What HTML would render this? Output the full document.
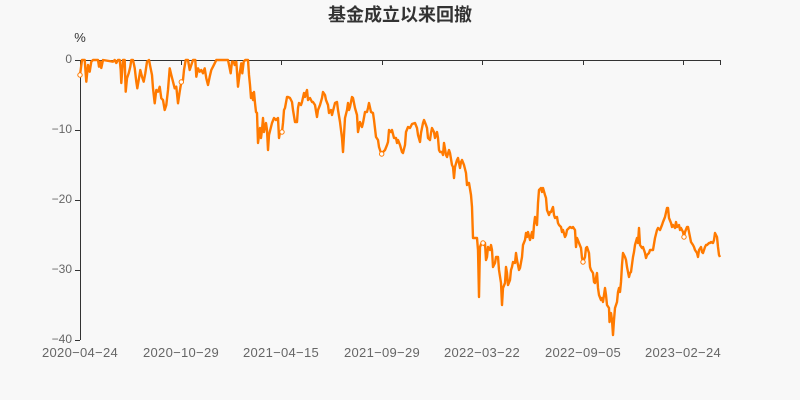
<!DOCTYPE html>
<html>
<head>
<meta charset="utf-8">
<style>
html,body{margin:0;padding:0;background:#f8f8f8;}
svg{display:block;}
</style>
</head>
<body>
<svg width="800" height="400" viewBox="0 0 800 400" xmlns="http://www.w3.org/2000/svg">
<rect x="0" y="0" width="800" height="400" fill="#f8f8f8"/>
<text x="400" y="21" text-anchor="middle" font-family="'Liberation Sans','Noto Sans CJK SC',sans-serif" font-size="18" font-weight="bold" fill="#333">基金成立以来回撤</text>
<text x="80" y="42" text-anchor="middle" font-family="'Liberation Sans',sans-serif" font-size="13" fill="#333">%</text>

<!-- axes -->
<g stroke="#333" stroke-width="1" fill="none" shape-rendering="crispEdges">
<line x1="80" y1="60.5" x2="720" y2="60.5"/>
<line x1="80.5" y1="60" x2="80.5" y2="340"/>
<line x1="181.5" y1="60" x2="181.5" y2="65"/>
<line x1="281.5" y1="60" x2="281.5" y2="65"/>
<line x1="382.5" y1="60" x2="382.5" y2="65"/>
<line x1="482.5" y1="60" x2="482.5" y2="65"/>
<line x1="583.5" y1="60" x2="583.5" y2="65"/>
<line x1="683.5" y1="60" x2="683.5" y2="65"/>
<line x1="720.5" y1="60" x2="720.5" y2="65"/>
<line x1="75" y1="60.5" x2="80" y2="60.5"/>
<line x1="75" y1="130.5" x2="80" y2="130.5"/>
<line x1="75" y1="200.5" x2="80" y2="200.5"/>
<line x1="75" y1="270.5" x2="80" y2="270.5"/>
<line x1="75" y1="340.5" x2="80" y2="340.5"/>
</g>

<g font-family="'Liberation Sans',sans-serif" font-size="12" fill="#666" text-anchor="end">
<text x="72" y="63">0</text>
<text x="72" y="133">−10</text>
<text x="72" y="203">−20</text>
<text x="72" y="273">−30</text>
<text x="72" y="343">−40</text>
</g>
<g font-family="'Liberation Sans',sans-serif" font-size="13" fill="#666" text-anchor="middle" letter-spacing="0.3">
<text x="80" y="357">2020−04−24</text>
<text x="181" y="357">2020−10−29</text>
<text x="281" y="357">2021−04−15</text>
<text x="382" y="357">2021−09−29</text>
<text x="482" y="357">2022−03−22</text>
<text x="583" y="357">2022−09−05</text>
<text x="683" y="357">2023−02−24</text>
</g>

<polyline fill="none" stroke="#ff7a00" stroke-width="2.4" stroke-linejoin="round" points="
80,75 82,60 84.7,60 86.3,81.7 88,65 89.7,71.7 91.3,61.7 93,60 98,60 99,66.7 100.3,61.7 101.3,68 103,60 113,61.7 114.7,60 116.3,63 118,60 119.7,60 120.7,70 121.3,83 123,60 124.7,60 125.7,91.7 127,78.3 128.7,73.3 130.3,66.7 131.3,60 133,60 134.7,68 136.3,81.7 137.3,88.3 139,78.3 140.3,70 142,76.7 143.7,81.7 145.3,73.3 147,61.7 149,60 150.3,66.7 152,75 153,88.3 154.7,103.3 156.3,90 158,91.7 159.7,86.7 161.3,98.3 163,100 164.7,110 166.3,105 168,90 169.7,68.3 171.3,75 173,81.7 174.7,88.3 176.3,86.7 178,103.3 179.7,91.7 181.3,82 183,80 184,70 185.7,60 188,60 189.7,70 191.3,65 193,60 195.3,60 196.3,76.7 198,68.3 199.7,71.7 201.3,70 203,73.3 204.7,68.3 206.3,78.3 208,85 209.7,76.7 211.3,70 213,66.7 214.7,63.3 216.3,60 228,60 229.7,68.3 230.7,73.3 232,61.7 233.7,61.7 234.7,65 236.3,61.7 238,86.7 239.7,73.3 241.3,63.3 242.3,73.3 243.7,61.7 245.3,60 248,60
249,75 250,85 251,98 252,93 253,100 254,92 255,103 256,112 257,113 258,143 260,128 261,138 262,130 263,118 264,132 266,123 267,130 268,150 269,135 271,127 272,123 274,118 276,120 278,118 279,138 280,132 282,132 283,123 284,110 285,108 287,97 288,97 290,98 292,102 293,110 295,122 297,122 298,108 299,103 301,105 302,102 304,93 305,97 306,93 307,90 308,100 310,98 312,102 313,102 315,105 317,117 318,110 320,105 322,98 323,92 325,95 326,100 328,105 329,113 331,110 332,115 334,107 335,103 337,102 338,110 340,122 342,138 343,152 344,135 345,118 347,110 348,103 349,110 350,107 352,97 353,98 355,108 357,115 358,132 360,122 362,127 363,123 365,112 367,112 368,108 369,103 371,112 373,113 374,120 376,137 378,140 379,147 381,153 383,152 385,150 387,145 388,142 389,130 391,132 392,130 394,138 396,138 397,143 398,140 400,145 402,152 403,153 405,145 406,132 408,127 410,128 412,124 415,123
417,128 418,135 420,142 421,133 423,123 424,120 426,125 427,128 428,138 430,140 431,133 432,128 434,132 435,138 437,132 438,138 439,150 440,152 442,152 443,155 444,143 446,155 447,157 449,150 450,153 452,165 453,167 454,178 455,167 457,160 458,158 460,168 461,162 462,160 464,165 466,173 467,185 468,183 469,183 471,195 472,207 473,238 475,238 477,238 478,250 479,297 479.5,270 480,247 482,242 483,243 484,245 485,243 486,260 487,257 488,247 490,250 491,245 492,250 493,267 495,263 496,257 498,257 499,270 501,283 502,305 503,288 505,283 506,267 507,273 508,285 510,280 511,270 512,267 513,262 515,263 516,253 517,260 519,270 520,268 522,257 523,245 525,240 526,233 527,237 528,232 530,240 532,232 533,238 534,225 535,217 537,225 538,203 539,190 541,188 542,192 543,188 545,195 546,198 547,210 549,215 550,212 551,212 553,207 554,215 555,218 557,217 558,223 559,225 561,227 562,232 563,230 565,237 566,235 567,230 569,228
570,227 572,228 573,227 575,230 576,247 577,238 579,243 581,248 582,258 583,262 585,257 586,248 587,247 589,253 590,267 591,270 593,273 594,282 595,283 597,273 598,288 599,295 601,300 602,298 603,302 605,288 606,295 607,305 609,308 609.5,322 611,313 612,320 613,335 614,320 615,308 617,302 618,292 619,288 620,292 621,282 622,265 623,253 625,257 626,260 627,267 629,277 630,273 631,272 633,257 634,252 635,245 637,238 638,243 639,228 640,245 642,248 643,247 645,253 646,258 647,255 649,253 650,250 652,250 653,250 655,238 657,230 658,228 660,230 662,225 663,222 665,217 667,208 668,208 669,218 671,223 672,227 673,225 675,228 676,222 677,227 679,225 680,230 681,228 683,232 684,237 685,232 687,227 688,227 690,237 691,242 693,245 694,247 695,250 697,253 698,257 699,250 701,247 702,252 703,253 705,247 706,245 707,245 709,243 710,243 711,242 713,243 714,240 715,233 717,237 718,247 719,255 720,257"/>

<g fill="#fff" stroke="#ff7a00" stroke-width="1">
<circle cx="80" cy="75" r="2.2"/>
<circle cx="181.3" cy="82" r="2.2"/>
<circle cx="282" cy="132" r="2.2"/>
<circle cx="381.7" cy="154" r="2.2"/>
<circle cx="483" cy="243" r="2.2"/>
<circle cx="583" cy="262" r="2.2"/>
<circle cx="684" cy="237" r="2.2"/>
</g>
</svg>
</body>
</html>
